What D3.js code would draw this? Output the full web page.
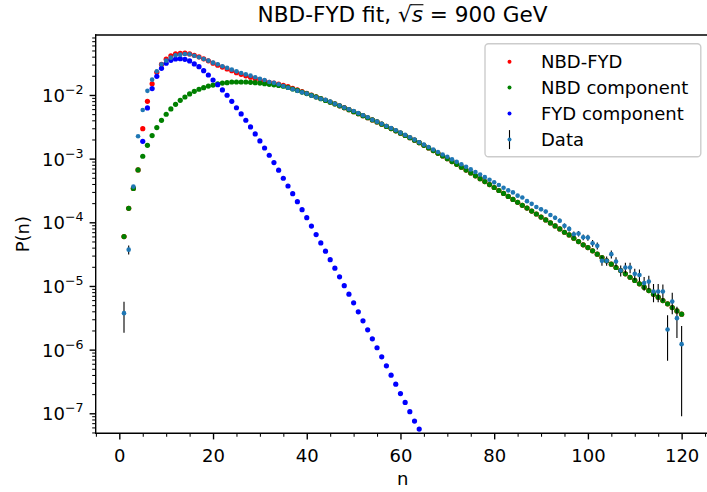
<!DOCTYPE html>
<html><head><meta charset="utf-8">
<script src="https://cdn.jsdelivr.net/npm/d3@7"></script>
<style>body{margin:0;background:#fff}svg{display:block}text{font-family:"DejaVu Sans",sans-serif}</style>
</head><body><svg id="c" width="707" height="492"></svg>
<script>
// ---------- data (n = 1..120) ----------
const nValues = d3.range(1, 121);
const dataP = [3.74e-6, 3.72e-5, 3.64e-4, 2.25e-3, 5.82e-3, 1.16e-2, 1.74e-2, 2.35e-2, 3.03e-2, 3.46e-2,
 3.86e-2, 4.20e-2, 4.30e-2, 4.40e-2, 4.35e-2, 4.14e-2, 3.91e-2, 3.67e-2, 3.46e-2, 3.22e-2,
 3.03e-2, 2.82e-2, 2.66e-2, 2.50e-2, 2.35e-2, 2.21e-2, 2.11e-2, 2.01e-2, 1.90e-2, 1.80e-2,
 1.72e-2, 1.60e-2, 1.55e-2, 1.47e-2, 1.38e-2, 1.30e-2, 1.23e-2, 1.16e-2, 1.10e-2, 1.05e-2,
 9.75e-3, 9.20e-3, 8.71e-3, 8.36e-3, 7.85e-3, 7.29e-3, 6.84e-3, 6.37e-3, 5.96e-3, 5.61e-3,
 5.18e-3, 4.80e-3, 4.47e-3, 4.09e-3, 3.81e-3, 3.54e-3, 3.26e-3, 3.03e-3, 2.79e-3, 2.56e-3,
 2.36e-3, 2.17e-3, 1.99e-3, 1.81e-3, 1.66e-3, 1.52e-3, 1.39e-3, 1.27e-3, 1.16e-3, 1.07e-3,
 9.75e-4, 8.91e-4, 8.15e-4, 7.43e-4, 6.78e-4, 6.18e-4, 5.62e-4, 5.12e-4, 4.66e-4, 4.24e-4,
 3.85e-4, 3.49e-4, 3.17e-4, 2.95e-4, 2.62e-4, 2.45e-4, 2.15e-4, 1.95e-4, 1.74e-4, 1.60e-4,
 1.48e-4, 1.30e-4, 1.18e-4, 1.06e-4, 8.79e-5, 7.87e-5, 6.50e-5, 6.65e-5, 5.83e-5, 5.75e-5,
 4.70e-5, 4.27e-5, 2.48e-5, 2.48e-5, 3.16e-5, 2.42e-5, 1.75e-5, 1.95e-5, 1.95e-5, 1.55e-5,
 1.49e-5, 1.11e-5, 1.17e-5, 8.17e-6, 8.17e-6, 8.17e-6, 2.07e-6, 5.69e-6, 3.12e-6, 1.22e-6];
const dataErr = [1.9e-6, 6.0e-6, 1.6e-5, 3.9e-5, 6.2e-5, 8.8e-5, 1.08e-4, 1.25e-4, 1.42e-4, 1.52e-4,
 1.60e-4, 1.67e-4, 1.69e-4, 1.71e-4, 1.70e-4, 1.66e-4, 1.61e-4, 1.56e-4, 1.52e-4, 1.46e-4,
 1.42e-4, 1.37e-4, 1.33e-4, 1.29e-4, 1.25e-4, 1.21e-4, 1.19e-4, 1.16e-4, 1.12e-4, 1.09e-4,
 1.07e-4, 1.03e-4, 1.02e-4, 9.9e-5, 9.6e-5, 9.3e-5, 9.0e-5, 8.8e-5, 8.6e-5, 8.4e-5,
 8.1e-5, 7.8e-5, 7.6e-5, 7.5e-5, 7.2e-5, 7.0e-5, 6.8e-5, 6.5e-5, 6.3e-5, 6.1e-5,
 5.9e-5, 5.7e-5, 5.5e-5, 5.2e-5, 5.0e-5, 4.9e-5, 4.7e-5, 4.5e-5, 4.3e-5, 4.1e-5,
 4.0e-5, 3.8e-5, 3.6e-5, 3.5e-5, 3.3e-5, 3.2e-5, 3.0e-5, 2.9e-5, 2.8e-5, 2.7e-5,
 2.5e-5, 2.4e-5, 2.3e-5, 2.2e-5, 2.1e-5, 2.0e-5, 1.9e-5, 1.85e-5, 1.76e-5, 1.68e-5,
 1.6e-5, 1.52e-5, 1.45e-5, 1.4e-5, 1.32e-5, 1.28e-5, 1.2e-5, 1.14e-5, 1.08e-5, 1.03e-5,
 9.9e-6, 9.3e-6, 8.9e-6, 8.4e-6, 7.7e-6, 7.2e-6, 6.6e-6, 6.7e-6, 6.2e-6, 6.2e-6,
 5.6e-6, 5.3e-6, 4.1e-6, 4.1e-6, 4.6e-6, 4.0e-6, 3.4e-6, 3.6e-6, 3.6e-6, 3.2e-6,
 3.2e-6, 2.7e-6, 2.8e-6, 2.6e-6, 2.6e-6, 2.4e-6, 1.4e-6, 2.1e-6, 1.6e-6, 1.13e-6];
const nbdP = [5.97e-5, 1.66e-4, 3.40e-4, 6.65e-4, 1.09e-3, 1.62e-3, 2.30e-3, 3.07e-3, 4.00e-3, 4.98e-3,
 6.03e-3, 7.14e-3, 8.24e-3, 9.30e-3, 1.04e-2, 1.14e-2, 1.23e-2, 1.30e-2, 1.38e-2, 1.43e-2,
 1.49e-2, 1.54e-2, 1.56e-2, 1.60e-2, 1.60e-2, 1.60e-2, 1.60e-2, 1.58e-2, 1.56e-2, 1.54e-2,
 1.50e-2, 1.47e-2, 1.445e-2, 1.41e-2, 1.37e-2, 1.31e-2, 1.24e-2, 1.18e-2, 1.11e-2, 1.05e-2,
 9.89e-3, 9.31e-3, 8.75e-3, 8.22e-3, 7.71e-3, 7.23e-3, 6.75e-3, 6.30e-3, 5.87e-3, 5.47e-3,
 5.08e-3, 4.73e-3, 4.39e-3, 4.06e-3, 3.77e-3, 3.48e-3, 3.21e-3, 2.97e-3, 2.73e-3, 2.51e-3,
 2.31e-3, 2.13e-3, 1.95e-3, 1.78e-3, 1.62e-3, 1.47e-3, 1.34e-3, 1.21e-3, 1.10e-3, 9.95e-4,
 8.99e-4, 8.13e-4, 7.35e-4, 6.62e-4, 5.97e-4, 5.38e-4, 4.84e-4, 4.36e-4, 3.92e-4, 3.52e-4,
 3.16e-4, 2.84e-4, 2.55e-4, 2.29e-4, 2.06e-4, 1.85e-4, 1.67e-4, 1.50e-4, 1.35e-4, 1.21e-4,
 1.09e-4, 9.77e-5, 8.77e-5, 7.87e-5, 6.98e-5, 6.34e-5, 5.62e-5, 4.98e-5, 4.42e-5, 4.01e-5,
 3.56e-5, 3.16e-5, 2.79e-5, 2.48e-5, 2.20e-5, 1.95e-5, 1.75e-5, 1.55e-5, 1.37e-5, 1.22e-5,
 1.08e-5, 9.57e-6, 8.47e-6, 7.43e-6, 6.67e-6, 5.90e-6, 5.24e-6, 4.58e-6, 4.06e-6, 3.61e-6];
const fydP = [null, null, null, null, 1.87e-3, 6.25e-3, 1.26e-2, 1.96e-2, 2.62e-2, 3.15e-2,
 3.50e-2, 3.67e-2, 3.72e-2, 3.63e-2, 3.42e-2, 3.07e-2, 2.78e-2, 2.41e-2, 2.06e-2, 1.72e-2,
 1.45e-2, 1.20e-2, 9.90e-3, 7.96e-3, 6.30e-3, 5.04e-3, 4.01e-3, 3.15e-3, 2.44e-3, 1.90e-3,
 1.47e-3, 1.13e-3, 8.67e-4, 6.58e-4, 4.92e-4, 3.72e-4, 2.82e-4, 2.11e-4, 1.58e-4, 1.18e-4,
 8.71e-5, 6.41e-5, 4.75e-5, 3.52e-5, 2.59e-5, 1.90e-5, 1.39e-5, 1.01e-5, 7.43e-6, 5.43e-6,
 3.92e-6, 2.83e-6, 2.05e-6, 1.48e-6, 1.07e-6, 7.71e-7, 5.57e-7, 3.97e-7, 2.87e-7, 2.04e-7,
 1.48e-7, 1.06e-7, 7.55e-8, 5.65e-8];
const fitP = [5.97e-5, 1.66e-4, 3.40e-4, 6.65e-4, 2.96e-3, 7.96e-3, 1.50e-2, 2.27e-2, 3.02e-2, 3.65e-2,
 4.12e-2, 4.42e-2, 4.52e-2, 4.54e-2, 4.42e-2, 4.19e-2, 3.98e-2, 3.70e-2, 3.44e-2, 3.16e-2,
 2.94e-2, 2.74e-2, 2.56e-2, 2.40e-2, 2.24e-2, 2.11e-2, 2.00e-2, 1.90e-2, 1.80e-2, 1.73e-2,
 1.65e-2, 1.58e-2, 1.53e-2, 1.48e-2, 1.42e-2, 1.35e-2, 1.27e-2, 1.20e-2, 1.13e-2, 1.06e-2,
 9.98e-3, 9.37e-3, 8.80e-3, 8.26e-3, 7.74e-3, 7.25e-3, 6.76e-3, 6.31e-3, 5.88e-3, 5.47e-3,
 5.08e-3, 4.73e-3, 4.39e-3, 4.06e-3, 3.77e-3, 3.48e-3, 3.21e-3, 2.97e-3, 2.73e-3, 2.51e-3,
 2.31e-3, 2.13e-3, 1.95e-3, 1.78e-3, 1.62e-3, 1.47e-3, 1.34e-3, 1.21e-3, 1.10e-3, 9.95e-4,
 8.99e-4, 8.13e-4, 7.35e-4, 6.62e-4, 5.97e-4, 5.38e-4, 4.84e-4, 4.36e-4, 3.92e-4, 3.52e-4,
 3.16e-4, 2.84e-4, 2.55e-4, 2.29e-4, 2.06e-4, 1.85e-4, 1.67e-4, 1.50e-4, 1.35e-4, 1.21e-4,
 1.09e-4, 9.77e-5, 8.77e-5, 7.87e-5, 6.98e-5, 6.34e-5, 5.62e-5, 4.98e-5, 4.42e-5, 4.01e-5,
 3.56e-5, 3.16e-5, 2.79e-5, 2.48e-5, 2.20e-5, 1.95e-5, 1.75e-5, 1.55e-5, 1.37e-5, 1.22e-5,
 1.08e-5, 9.57e-6, 8.47e-6, 7.43e-6, 6.67e-6, 5.90e-6, 5.24e-6, 4.58e-6, 4.06e-6, 3.61e-6];
const xTicks = [0, 20, 40, 60, 80, 100, 120];
const xMinorTicks = [-5, 5, 10, 15, 25, 30, 35, 45, 50, 55, 65, 70, 75, 85, 90, 95, 105, 110, 115, 125];
const yTickExps = [-7, -6, -5, -4, -3, -2];
const legendLabels = ["NBD-FYD", "NBD component", "FYD component", "Data"];
const seriesColors = ["#ff0000", "#008000", "#0000ff", "#1f77b4"];

// ---------- layout ----------
const svg = d3.select("#c");
const P = {left: 95.7, right: 709.5, top: 35, bottom: 433.3};
const FS = 18;
const x = d3.scaleLinear().domain([-5.04, 125.95]).range([P.left, P.right]);
const y = d3.scaleLog().domain([4.85e-8, 0.0875]).range([P.bottom, P.top]);

svg.append("rect").attr("width", 707).attr("height", 492).attr("fill", "#fff");
svg.append("defs").append("clipPath").attr("id", "clip").append("rect")
  .attr("x", P.left).attr("y", P.top).attr("width", P.right - P.left).attr("height", P.bottom - P.top);

const plotG = svg.append("g").attr("clip-path", "url(#clip)");
function dots(vals, color, r) {
  plotG.append("g").selectAll("circle")
    .data(vals.map((v, i) => ({n: nValues[i], v})).filter(d => d.v != null && d.v > 0))
    .join("circle").attr("cx", d => x(d.n)).attr("cy", d => y(d.v)).attr("r", r).attr("fill", color);
}
dots(fitP, seriesColors[0], 2.6);
dots(nbdP, seriesColors[1], 2.6);
dots(fydP, seriesColors[2], 2.6);
plotG.append("g").selectAll("line")
  .data(dataP.map((v, i) => ({n: nValues[i], v, e: dataErr[i]})))
  .join("line")
  .attr("x1", d => x(d.n)).attr("x2", d => x(d.n))
  .attr("y1", d => y(Math.max(d.v - d.e, 1e-12))).attr("y2", d => y(d.v + d.e))
  .attr("stroke", "#000").attr("stroke-width", 1.1);
dots(dataP, seriesColors[3], 2.3);

// ---------- axes ----------
function styleAxis(g) {
  g.select(".domain").remove();
  g.selectAll("line").attr("stroke", "#000");
  g.selectAll("text").attr("fill", "#000").style("font-size", FS + "px").style("font-family", '"DejaVu Sans", sans-serif');
}
svg.append("g").attr("transform", `translate(0,${P.bottom})`)
  .call(d3.axisBottom(x).tickValues(xMinorTicks).tickSize(3.5).tickFormat(""))
  .call(styleAxis).call(g => g.selectAll("line").attr("stroke-width", 1.04));
svg.append("g").attr("transform", `translate(0,${P.bottom})`)
  .call(d3.axisBottom(x).tickValues(xTicks).tickSize(6.1).tickPadding(9.5).tickFormat(d3.format("d")))
  .call(styleAxis).call(g => g.selectAll("line").attr("stroke-width", 1.39));

const yMinor = [];
for (let e = -8; e <= -2; e++) for (let m = 2; m <= 9; m++) {
  const v = m * Math.pow(10, e);
  if (v >= 4.85e-8 && v <= 0.0875) yMinor.push(v);
}
svg.append("g").attr("transform", `translate(${P.left},0)`)
  .call(d3.axisLeft(y).tickValues(yMinor).tickSize(3.5).tickFormat(""))
  .call(styleAxis).call(g => g.selectAll("line").attr("stroke-width", 1.04));
const yAx = svg.append("g").attr("transform", `translate(${P.left},0)`)
  .call(d3.axisLeft(y).tickValues(yTickExps.map(e => Math.pow(10, e))).tickSize(6.1).tickPadding(6.1))
  .call(styleAxis).call(g => g.selectAll("line").attr("stroke-width", 1.39));
yAx.selectAll(".tick text").each(function(d) {
  const t = d3.select(this);
  const e = Math.round(Math.log10(d));
  t.text(null).attr("dy", "0.36em");
  t.append("tspan").text("10");
  t.append("tspan").attr("dy", -7.8).style("font-size", (FS * 0.7) + "px").text("\u2212" + Math.abs(e));
});

const sp = svg.append("g").attr("stroke", "#000").attr("stroke-width", 1.39).attr("stroke-linecap", "square");
sp.append("line").attr("x1", P.left).attr("x2", P.left).attr("y1", P.top).attr("y2", P.bottom);
sp.append("line").attr("x1", P.left).attr("x2", P.right).attr("y1", P.bottom).attr("y2", P.bottom);
sp.append("line").attr("x1", P.left).attr("x2", P.right).attr("y1", P.top).attr("y2", P.top);
sp.append("line").attr("x1", P.right).attr("x2", P.right).attr("y1", P.top).attr("y2", P.bottom);

svg.append("text").attr("x", (P.left + P.right) / 2).attr("y", 485).attr("text-anchor", "middle")
  .style("font-size", FS + "px").text("n");
svg.append("text").attr("transform", `translate(28.5,${(P.top + P.bottom) / 2}) rotate(-90)`)
  .attr("text-anchor", "middle").style("font-size", FS + "px").text("P(n)");

// title with sqrt
const TF = 21.6, TB = 22;
const title = svg.append("text").attr("x", (P.left + P.right) / 2).attr("y", TB)
  .attr("text-anchor", "middle").style("font-size", TF + "px");
const pre = "NBD-FYD fit, ";
title.append("tspan").text(pre);
title.append("tspan").text("\u221A");
title.append("tspan").style("font-style", "italic").text("s");
title.append("tspan").text(" = 900 GeV");
const tn = title.node();
const iR = pre.length, iS = pre.length + 1;
const rEnd = tn.getEndPositionOfChar(iR).x;
const sEnd = tn.getEndPositionOfChar(iS).x;
svg.append("line").attr("x1", rEnd - 0.6).attr("x2", sEnd + 0.5)
  .attr("y1", TB - 0.80 * TF).attr("y2", TB - 0.80 * TF)
  .attr("stroke", "#000").attr("stroke-width", 1.1);

// legend
const L = {x: 485, y: 43.7, w: 215.8, h: 113};
const lg = svg.append("g");
lg.append("rect").attr("x", L.x).attr("y", L.y).attr("width", L.w).attr("height", L.h)
  .attr("rx", 3.5).attr("fill", "#fff").attr("fill-opacity", 0.8)
  .attr("stroke", "#cccccc").attr("stroke-width", 1.39);
const rowY = [61.7, 87.6, 113.5, 139.6];
legendLabels.forEach((lab, i) => {
  const cy = rowY[i], cx = 509.5;
  if (i === 3) {
    lg.append("line").attr("x1", cx).attr("x2", cx).attr("y1", cy - 9.5).attr("y2", cy + 9.5)
      .attr("stroke", "#000").attr("stroke-width", 1.1);
  }
  lg.append("circle").attr("cx", cx).attr("cy", cy).attr("r", 2).attr("fill", seriesColors[i]);
  lg.append("text").attr("x", 541).attr("y", cy + 6.4).style("font-size", FS + "px").text(lab);
});
</script></body></html>
